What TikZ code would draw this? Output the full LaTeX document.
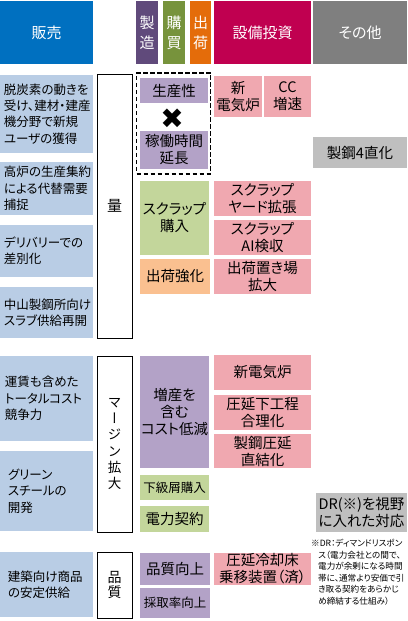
\documentclass[tikz,border=0pt]{standalone}
\usepackage{fontspec}
\setmainfont{Noto Sans CJK JP}[RawFeature=+palt]
\newfontfamily\vertfont{Noto Sans CJK JP}[RawFeature={+vert}]
\newfontfamily\symfont{DejaVu Sans}
\definecolor{hanbai}{RGB}{0,112,192}
\definecolor{seizo}{RGB}{96,74,123}
\definecolor{kobai}{RGB}{119,147,60}
\definecolor{shukka}{RGB}{228,108,10}
\definecolor{setsubi}{RGB}{192,0,80}
\definecolor{sonota}{RGB}{127,127,127}
\definecolor{lblue}{RGB}{185,205,229}
\definecolor{lpurple}{RGB}{179,162,199}
\definecolor{lgreen}{RGB}{195,214,155}
\definecolor{lorange}{RGB}{250,192,144}
\definecolor{lpink}{RGB}{240,168,176}
\definecolor{lgray}{RGB}{191,191,191}
\tikzset{
	every node/.style = {inner sep=0pt, align=center, font=\fontsize{14.5}{17}\selectfont},
	headbox/.style = {fill=#1, text=white, font=\fontsize{15}{20}\selectfont, minimum height=63},
	cellbox/.style = {fill=#1},
	salesbox/.style = {fill=lblue, align=left, minimum width=93, font=\fontsize{12.5}{16.3}\selectfont},
	bracketbox/.style = {draw=black, line width=1pt, fill=white, minimum width=35}
}

\begin{document}
\begin{tikzpicture}[x=1pt, y=-1pt]
		\useasboundingbox (0,0) rectangle (407,621);
		% header
		\node[headbox=hanbai, minimum width=93] (hHanbai) at (46.5,32.5) {販売};
		\node[headbox=seizo, minimum width=22] (hSeizo) at (147,32.5) {製\\造};
		\node[headbox=kobai, minimum width=22] (hKobai) at (174,32.5) {購\\買};
		\node[headbox=shukka, minimum width=21] (hShukka) at (200.5,32.5) {出\\荷};
		\node[headbox=setsubi, minimum width=97] (hSetsubi) at (262.5,32.5) {設備投資};
		\node[headbox=sonota, minimum width=94] (hSonota) at (360,32.5) {その他};
		
		% sales column
		\foreach \n/\y/\h/\w/\t in {
			1/114/78/85/{脱炭素の動きを\\受け、建材・建産\\機分野で新規\\ユーザの獲得},
			2/188.5/53/85/{高炉の生産集約\\による代替需要\\捕捉},
			3/251/52/85/{デリバリーでの\\差別化},
			4/312.5/51/85/{中山製鋼所向け\\スラブ供給再開},
			5/398.5/85/83/{運賃も含めた\\トータルコスト\\競争力},
			6/491/80/77/{グリーン\\スチールの\\開発},
			7/584.5/65/77/{建築向け商品\\の安定供給}}
			\node[salesbox, minimum height=\h, text width=\w] (sales\n) at (46.5,\y) {\t};
		
		% brackets
		\node[bracketbox, minimum height=264, font=\fontsize{15}{17}\selectfont] (ryo) at (114.5,206) {量};
		\node[bracketbox, minimum height=176, font=\vertfont\fontsize{13.5}{16.3}\selectfont] (margin) at (114.5,444) {マ\\ー\\ジ\\ン\\拡\\大};
		\node[bracketbox, minimum height=66, font=\fontsize{14}{15}\selectfont] (hinshitsu) at (114.5,585) {品\\質};
		
		% production / purchase / shipping column
		\node[draw, dashed, dash pattern=on 4.5pt off 2.5pt, line width=1.5pt, minimum width=74, minimum height=101] (shift) at (173.7,123.4) {};
		\node[cellbox=lpurple, minimum width=68, minimum height=25] (seisansei) at (174,90.5) {生産性};
		\node[font=\symfont\fontsize{28}{28}\selectfont] (cross) at (172,119) {✖};
		\node[cellbox=lpurple, minimum width=68, minimum height=38] (kado) at (174,150) {稼働時間\\延長};
		\node[cellbox=lgreen, minimum width=69, minimum height=74] (scrapbuy) at (174.5,218) {スクラップ\\購入};
		\node[cellbox=lorange, minimum width=70, minimum height=35] (shukka) at (175,276.5) {出荷強化};
		\node[cellbox=lpurple, minimum width=69, minimum height=112] (costdown) at (174.5,412) {増産を\\含む\\コスト低減};
		\node[cellbox=lgreen, minimum width=69, minimum height=25, font=\fontsize{12.5}{15}\selectfont] (kakyu) at (174.5,487.5) {下級屑購入};
		\node[cellbox=lgreen, minimum width=69, minimum height=26] (denryoku) at (174.5,519) {電力契約};
		\node[cellbox=lpurple, minimum width=70, minimum height=32] (quality) at (175,569) {品質向上};
		\node[cellbox=lpurple, minimum width=70, minimum height=30, font=\fontsize{12.5}{15}\selectfont] (yield) at (175,603) {採取率向上};
		
		% capital investment column
		\node[cellbox=lpink, minimum width=48, minimum height=41] (eaf1) at (238,96.5) {新\\電気炉};
		\node[cellbox=lpink, minimum width=47, minimum height=41] (cc) at (287.5,96.5) {CC\\増速};
		\foreach \n/\y/\h/\t in {
			yard/198.5/35/{スクラップ\\ヤード拡張},
			ai/237.5/35/{スクラップ\\AI検収},
			place/276.5/35/{出荷置き場\\拡大},
			eaf2/372.5/35/{新電気炉},
			rolling/412.5/35/{圧延下工程\\合理化},
			direct/451/34/{製鋼圧延\\直結化},
			cooling/569/32/{圧延冷却床\\乗移装置（済）}}
			\node[cellbox=lpink, minimum width=97, minimum height=\h] (\n) at (262.5,\y) {\t};
		
		% others column
		\node[cellbox=lgray, minimum width=94, minimum height=31] (shift4) at (360,152.5) {製鋼4直化};
		\node[cellbox=lgray, minimum width=91, minimum height=39] (dr) at (361.5,512.5) {DR(※)を視野\\に入れた対応};
		\node[anchor=north west, align=left, font=\fontsize{8.6}{11.5}\selectfont] (drnote) at (311,539) {※DR：ディマンドリスポン\\\hspace*{7pt}ス（電力会社との間で、\\\hspace*{7pt}電力が余剰になる時間\\\hspace*{7pt}帯に、通常より安価で引\\\hspace*{7pt}き取る契約をあらかじ\\\hspace*{7pt}め締結する仕組み）};
	\end{tikzpicture}
\end{document}
